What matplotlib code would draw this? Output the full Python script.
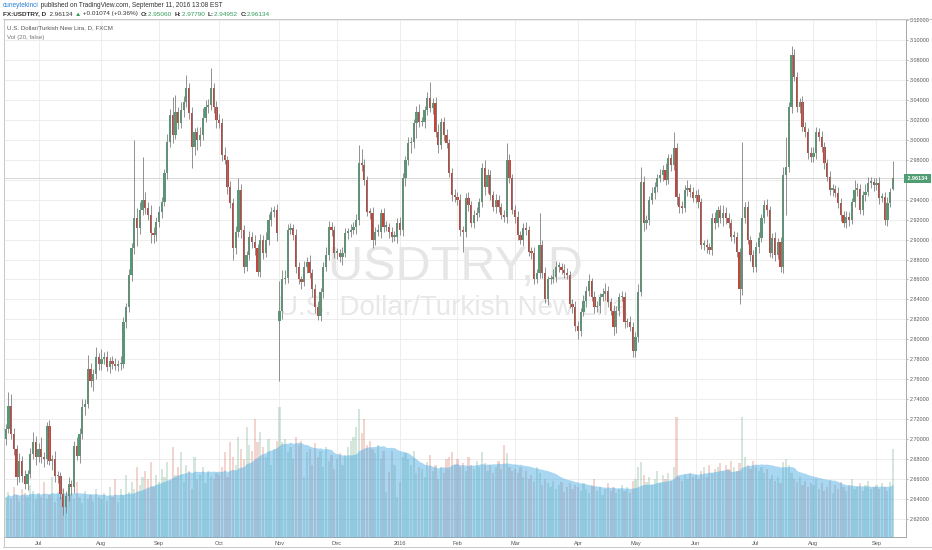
import numpy as np
import pandas as pd
import matplotlib
matplotlib.use('Agg')
import matplotlib.pyplot as plt
from matplotlib.lines import Line2D

W, H = 932, 550

# ---------------- data (daily FX:USDTRY, 15 Jun 2015 - 9 Sep 2016) ----------------
closes = [
    2.710, 2.733, 2.705, 2.690, 2.662, 2.678, 2.663, 2.655, 2.665, 2.685, 2.697, 2.682,  # Jun 15
    2.690, 2.682, 2.680, 2.713, 2.678, 2.680, 2.663, 2.663, 2.645, 2.632, 2.643, 2.655, 2.652, 2.693,
    2.683, 2.705, 2.732, 2.735, 2.770, 2.758, 2.765, 2.782, 2.775,  # Jul
    2.780, 2.782, 2.772, 2.778, 2.775, 2.773, 2.775, 2.775, 2.817, 2.832, 2.865, 2.892, 2.922, 2.912,
    2.930, 2.940, 2.932, 2.925, 2.907, 2.905, 2.918,  # Aug
    2.928, 2.938, 2.967, 2.998, 3.025, 3.005, 3.028, 3.017, 3.030, 3.038, 3.052, 3.027, 2.993, 3.008,
    3.000, 3.005, 3.022, 3.033, 3.035, 3.052, 3.033, 3.020,  # Sep
    3.017, 2.985, 2.980, 2.953, 2.937, 2.892, 2.908, 2.950, 2.910, 2.873, 2.885, 2.903, 2.898, 2.892,
    2.868, 2.900, 2.887, 2.900, 2.920, 2.928, 2.930, 2.907,  # Oct
    2.828, 2.860, 2.862, 2.910, 2.912, 2.905, 2.873, 2.860, 2.857, 2.873, 2.878, 2.867, 2.850, 2.832,
    2.823, 2.847, 2.873, 2.885, 2.913, 2.910, 2.887,  # Nov
    2.887, 2.883, 2.887, 2.907, 2.908, 2.910, 2.913, 2.920, 2.977, 2.975, 2.960, 2.928, 2.927, 2.900,
    2.908, 2.908, 2.927, 2.913, 2.913, 2.908, 2.903, 2.903, 2.917,  # Dec
    2.910, 2.962, 2.980, 2.997, 2.998, 3.017, 3.028, 3.018, 3.018, 3.030, 3.042, 3.032, 3.037, 3.008,
    2.995, 3.018, 3.005, 2.997, 2.967, 2.945, 2.943,  # Jan 2016
    2.940, 2.910, 2.908, 2.942, 2.935, 2.917, 2.925, 2.927, 2.938, 2.972, 2.953, 2.965, 2.945, 2.933,
    2.940, 2.933, 2.925, 2.923, 2.980, 2.962, 2.930,  # Feb
    2.923, 2.905, 2.900, 2.912, 2.910, 2.888, 2.887, 2.860, 2.867, 2.895, 2.867, 2.840, 2.860, 2.860,
    2.863, 2.873, 2.873, 2.870, 2.867, 2.865, 2.835, 2.832, 2.813,  # Mar
    2.808, 2.827, 2.838, 2.848, 2.858, 2.842, 2.832, 2.833, 2.842, 2.845, 2.848, 2.837, 2.828, 2.812,
    2.828, 2.842, 2.842, 2.817, 2.817, 2.812, 2.788,  # Apr
    2.802, 2.847, 2.958, 2.917, 2.920, 2.940, 2.947, 2.953, 2.962, 2.965, 2.970, 2.960, 2.982, 2.975,
    2.992, 2.943, 2.933, 2.932, 2.950, 2.952, 2.948, 2.942,  # May
    2.945, 2.938, 2.895, 2.895, 2.893, 2.890, 2.922, 2.917, 2.930, 2.922, 2.927, 2.922, 2.917, 2.903,
    2.903, 2.888, 2.850, 2.922, 2.933, 2.900, 2.885, 2.873,  # Jun
    2.893, 2.902, 2.922, 2.935, 2.930, 2.887, 2.902, 2.885, 2.898, 2.873, 2.965, 2.973, 3.033, 3.085,
    3.063, 3.033, 3.038, 3.013, 3.008, 2.987, 2.983,  # Jul
    2.987, 3.008, 3.003, 2.993, 2.977, 2.963, 2.950, 2.951, 2.947, 2.937, 2.925, 2.917, 2.923, 2.920,
    2.938, 2.950, 2.951, 2.930, 2.945, 2.948, 2.957, 2.958, 2.955,  # Aug
    2.957, 2.942, 2.943, 2.920, 2.937, 2.948, 2.96134,  # Sep
]

# opens equal the previous close except on these sessions
open_overrides = {'2015-06-15': 2.700, '2015-11-02': 2.818, '2016-09-09': 2.95060}

# wick lengths above / below the body, in thousandths of a lira
wick_up = [
    5, 14, 12, 6, 4, 8, 5, 6, 4, 6, 10, 6,
    6, 12, 5, 4, 6, 4, 8, 5, 4, 6, 5, 7, 4, 5, 9, 6, 8, 5, 14, 6, 5, 10, 4,
    10, 5, 6, 4, 5, 6, 4, 8, 5, 4, 6, 5, 78, 10, 8, 43, 8, 6, 10, 6, 5,
    6, 5, 4, 8, 6, 18, 17, 5, 8, 6, 13, 5, 6, 4, 5, 8, 10, 7, 6, 20, 5, 6,
    6, 5, 8, 4, 6, 5, 6, 12, 6, 5, 4, 6, 5, 7, 4, 6, 5, 8, 6, 5, 4, 6,
    30, 10, 8, 6, 5, 4, 6, 5, 4, 6, 5, 7, 4, 5, 6, 4, 5, 8, 6, 5, 4,
    5, 4, 6, 5, 4, 6, 5, 6, 18, 14, 6, 4, 4, 6, 5, 8, 4, 5, 6, 4, 5, 6, 5,
    6, 5, 4, 6, 5, 4, 6, 8, 5, 4, 6, 16, 5, 6, 8, 4, 5, 6, 4, 5, 6,
    5, 6, 4, 5, 6, 4, 5, 6, 4, 5, 8, 6, 5, 4, 6, 5, 4, 5, 17, 6, 4,
    5, 6, 4, 5, 6, 4, 5, 6, 4, 32, 5, 6, 4, 5, 8, 6, 5, 4, 6, 5, 4, 5, 6,
    5, 4, 6, 5, 8, 4, 6, 5, 4, 6, 8, 5, 4, 6, 5, 4, 6, 5, 4, 6, 5,
    5, 8, 15, 6, 5, 4, 6, 5, 4, 6, 5, 7, 4, 4, 16, 5, 4, 6, 5, 8, 4, 5,
    5, 6, 4, 5, 6, 4, 5, 6, 4, 5, 8, 6, 5, 4, 6, 5, 4, 76, 5, 6, 4, 5,
    5, 6, 4, 5, 6, 4, 5, 6, 4, 5, 8, 30, 5, 9, 6, 5, 4, 6, 5, 4, 6,
    6, 5, 4, 6, 5, 4, 6, 5, 4, 6, 5, 4, 6, 5, 4, 10, 6, 5, 4, 8, 6, 5, 4,
    5, 6, 4, 5, 6, 4, 17,
]
wick_dn = [
    6, 4, 5, 6, 8, 5, 6, 5, 6, 4, 5, 8,
    5, 6, 8, 5, 4, 9, 6, 7, 5, 8, 6, 5, 8, 6, 4, 7, 5, 8, 4, 6, 10, 5, 6,
    6, 5, 4, 6, 5, 4, 5, 6, 4, 6, 5, 7, 6, 18, 6, 5, 6, 5, 10, 8, 6,
    5, 6, 4, 6, 5, 8, 4, 6, 5, 7, 5, 6, 21, 8, 10, 6, 5, 4, 6, 5, 6, 8,
    5, 6, 4, 7, 5, 12, 6, 5, 8, 6, 4, 5, 6, 7, 4, 5, 6, 4, 5, 6, 5, 8,
    60, 8, 5, 6, 4, 5, 6, 5, 7, 4, 6, 5, 8, 6, 4, 5, 6, 4, 5, 6, 5,
    6, 5, 8, 4, 6, 5, 4, 7, 5, 6, 5, 4, 6, 8, 5, 4, 6, 5, 4, 6, 5, 4, 6,
    5, 6, 8, 5, 10, 6, 15, 5, 4, 6, 5, 4, 6, 5, 8, 4, 6, 5, 4, 6, 5,
    5, 6, 20, 5, 6, 4, 5, 6, 4, 5, 8, 6, 5, 4, 6, 5, 4, 5, 6, 5, 4,
    6, 5, 4, 6, 5, 4, 6, 5, 4, 6, 5, 4, 6, 5, 4, 6, 5, 4, 6, 5, 4, 6, 5,
    8, 5, 4, 6, 5, 4, 6, 5, 7, 4, 6, 5, 4, 8, 6, 5, 4, 6, 5, 4, 6,
    6, 5, 4, 8, 6, 5, 4, 6, 5, 4, 6, 5, 4, 6, 5, 8, 6, 5, 4, 6, 5, 4,
    5, 6, 4, 5, 6, 4, 5, 6, 4, 5, 8, 6, 5, 4, 6, 5, 15, 6, 5, 4, 6, 5,
    5, 6, 4, 5, 6, 4, 5, 6, 4, 5, 6, 40, 5, 6, 4, 5, 6, 4, 5, 6, 5,
    5, 6, 4, 5, 6, 4, 5, 6, 4, 5, 6, 4, 5, 6, 4, 5, 6, 4, 5, 6, 4, 5, 6,
    5, 6, 4, 5, 6, 4, 1,
]

volumes = [
    40, 45, 38, 50, 42, 36, 48, 44, 40, 52, 46, 38,
    44, 40, 55, 38, 42, 60, 35, 45, 40, 48, 36, 50, 42, 38, 55, 40, 34, 46, 38, 42, 36, 48, 40,
    38, 44, 36, 50, 40, 58, 35, 48, 42, 62, 45, 55, 48, 70, 52, 60, 66, 58, 75, 50, 62,
    55, 68, 60, 75, 58, 90, 62, 70, 85, 55, 72, 66, 48, 80, 58, 62, 70, 54, 66, 60, 58, 64,
    62, 70, 85, 60, 95, 80, 72, 100, 88, 78, 110, 92, 86, 118, 95, 105, 90, 80, 98, 72, 88, 96,
    130, 95, 98, 85, 90, 78, 100, 92, 96, 60, 85, 88, 72, 94, 80, 86, 70, 90, 76, 82, 68,
    78, 84, 72, 82, 90, 96, 100, 110, 128, 104, 118, 92, 96, 88, 84, 92, 78, 86, 45, 65, 86, 72, 40,
    55, 80, 84, 78, 72, 86, 64, 70, 68, 60, 75, 82, 66, 72, 58, 70, 64, 78, 80, 85, 72,
    78, 70, 74, 66, 80, 72, 68, 76, 70, 85, 74, 66, 72, 64, 70, 76, 68, 92, 84, 70, 66,
    68, 64, 70, 60, 66, 58, 62, 55, 70, 64, 52, 58, 54, 50, 56, 48, 52, 55, 45, 50, 54, 48, 52,
    50, 46, 54, 48, 44, 52, 58, 46, 50, 42, 48, 54, 46, 50, 44, 48, 52, 46, 50, 44, 56,
    58, 70, 75, 62, 55, 60, 52, 58, 66, 54, 62, 58, 64, 56, 70, 120, 60, 56, 62, 58, 64, 60,
    62, 58, 66, 70, 60, 72, 64, 68, 70, 74, 66, 72, 68, 76, 70, 66, 74, 120, 80, 72, 68, 76,
    70, 66, 70, 64, 68, 58, 62, 56, 60, 54, 75, 78, 72, 64, 58, 55, 60, 52, 56, 50, 54,
    52, 58, 48, 54, 46, 50, 56, 44, 52, 48, 55, 50, 46, 52, 58, 48, 50, 54, 46, 52, 56, 48, 50,
    52, 48, 54, 50, 46, 55, 88,
]

price_ticks = [2.62, 2.64, 2.66, 2.68, 2.70, 2.72, 2.74, 2.76, 2.78, 2.80, 2.82, 2.84, 2.86,
               2.88, 2.90, 2.92, 2.94, 2.96, 2.98, 3.00, 3.02, 3.04, 3.06, 3.08, 3.10, 3.12]
last_price = 2.96134

# ---------------- derived series ----------------
N = len(closes)
assert len(wick_up) == N and len(wick_dn) == N and len(volumes) == N
dates = pd.bdate_range(end='2016-09-09', periods=N)
c = np.array(closes)
o = np.r_[c[0], c[:-1]]
for d, v in open_overrides.items():
    o[dates.get_loc(pd.Timestamp(d))] = v
hi = np.maximum(o, c) + np.array(wick_up) / 1000.0
lo = np.minimum(o, c) - np.array(wick_dn) / 1000.0
x = np.arange(N)
up = c >= o
vol = np.array(volumes, dtype=float)
vol_ma = pd.Series(vol).rolling(20, min_periods=1).mean().values

month_idx = [i for i in range(1, N) if dates[i].month != dates[i - 1].month]
month_lbl = [('%d' % dates[i].year) if dates[i].month == 1 else dates[i].strftime('%b') for i in month_idx]

# ---------------- styling ----------------
GREEN = '#519d73'
RED = '#c2463a'
WICK = '#808080'
FONT = ['Liberation Sans', 'DejaVu Sans']
plt.rcParams['font.family'] = FONT

fig = plt.figure(figsize=(W / 100, H / 100), dpi=100, facecolor='white')
renderer = fig.canvas.get_renderer()


def fpx(px_x, px_y):
    return px_x / W, 1 - px_y / H


rect = [4 / W, (H - 537) / H, 902 / W, 518.5 / H]
XLIM = (-0.6, 328.8)
YLIM = (2.602, 3.1215)

ax = fig.add_axes(rect, zorder=1)
ax.set_facecolor('white')
ax.set_xlim(*XLIM)
ax.set_ylim(*YLIM)
ax.yaxis.tick_right()
ax.set_yticks(price_ticks)
# the 2.96000 label sits under the last-price marker, as in the original
ax.set_yticklabels(['' if abs(t - 2.96) < 1e-9 else '%.5f' % t for t in price_ticks])
ax.set_xticks(month_idx)
ax.set_xticklabels(month_lbl)
ax.tick_params(axis='y', length=1.6, width=0.5, color='#9a9a9a', labelsize=3.9,
               labelcolor='#555555', pad=1.2)
ax.tick_params(axis='x', length=0, labelsize=4.1, labelcolor='#555555', pad=2.6)
ax.grid(True, color='#eaeaea', lw=0.6)
ax.set_axisbelow(True)
for side in ('left', 'top'):
    ax.spines[side].set_visible(False)
ax.spines['right'].set_color('#a9a9a9')
ax.spines['right'].set_linewidth(0.7)
ax.spines['bottom'].set_color('#a9a9a9')
ax.spines['bottom'].set_linewidth(0.7)
ax.axhline(last_price, color='#a0a0a0', lw=0.6, ls=(0, (1.2, 1.2)), zorder=1)
ax.text(1.0, last_price, ' 2.96134 ', transform=ax.get_yaxis_transform(), ha='left', va='center',
        fontsize=3.9, color='white', fontweight='bold', clip_on=False, zorder=10,
        bbox=dict(boxstyle='square,pad=0.35', fc=GREEN, ec='none'))

# watermark
fig.text(*fpx(455, 268), 'USDTRY, D', fontsize=35, color='#e6e6e6', ha='center', va='center',
         zorder=1.5)
fig.text(*fpx(452, 308), 'U.S. Dollar/Turkish New Lira', fontsize=20, color='#e8e8e8',
         ha='center', va='center', zorder=1.5)

# volume pane
axv = fig.add_axes(rect, zorder=2, sharex=ax)
axv.patch.set_visible(False)
axv.set_ylim(0, 518.5)
axv.axis('off')
vcols = [(0.42, 0.65, 0.51, 0.28) if u else (0.84, 0.33, 0.26, 0.25) for u in up]
axv.bar(x, vol, width=0.8, color=vcols, linewidth=0)
axv.fill_between(x, 0, vol_ma, color='#40a7e3', alpha=0.45, lw=0)

# candles
axc = fig.add_axes(rect, zorder=3, sharex=ax, sharey=ax)
axc.patch.set_visible(False)
axc.axis('off')
axc.vlines(x, lo, hi, color=WICK, lw=0.6)
body = np.maximum(np.abs(c - o), 0.0012)
axc.bar(x, body, bottom=np.minimum(o, c), width=0.82, color=[GREEN if u else RED for u in up],
        linewidth=0)
axc.set_xlim(*XLIM)
axc.set_ylim(*YLIM)

# frame lines
for (x0, y0, x1, y1) in [(3, 18.5, 932, 18.5), (3.5, 18.5, 3.5, 547), (3, 547, 932, 547)]:
    fig.add_artist(Line2D([x0 / W, x1 / W], [1 - y0 / H, 1 - y1 / H], color='#c8c8c8', lw=0.7,
                          zorder=6))


def text_run(px_x, px_y, pieces, size):
    for s, color, weight in pieces:
        t = fig.text(*fpx(px_x, px_y), s, fontsize=size, color=color, fontweight=weight,
                     family=FONT, ha='left', va='center', zorder=7)
        px_x += t.get_window_extent(renderer).width


DARK = '#333333'
HG = '#2f9a58'
text_run(3, 5.5, [('cuneytekinci', '#2a7fd4', 'normal'),
                  (' published on TradingView.com, September 11, 2016 13:08 EST', DARK, 'normal')], 4.7)
text_run(3, 14, [('FX:USDTRY, D', DARK, 'bold'), ('  2.96134 ', DARK, 'normal'),
                 ('\u25b2', HG, 'normal'), (' +0.01074 (+0.36%)  ', DARK, 'normal'),
                 ('O:', DARK, 'bold'), ('2.95060  ', HG, 'normal'),
                 ('H:', DARK, 'bold'), ('2.97790  ', HG, 'normal'),
                 ('L:', DARK, 'bold'), ('2.94952  ', HG, 'normal'),
                 ('C:', DARK, 'bold'), ('2.96134', HG, 'normal')], 4.6)
fig.text(*fpx(7, 28), 'U.S. Dollar/Turkish New Lira, D, FXCM', fontsize=4.4, color='#555555',
         ha='left', va='center', zorder=7)
fig.text(*fpx(7, 37), 'Vol (20, false)', fontsize=4.4, color='#777777', ha='left', va='center',
         zorder=7)

fig.savefig('out.png', dpi=100, facecolor='white')
